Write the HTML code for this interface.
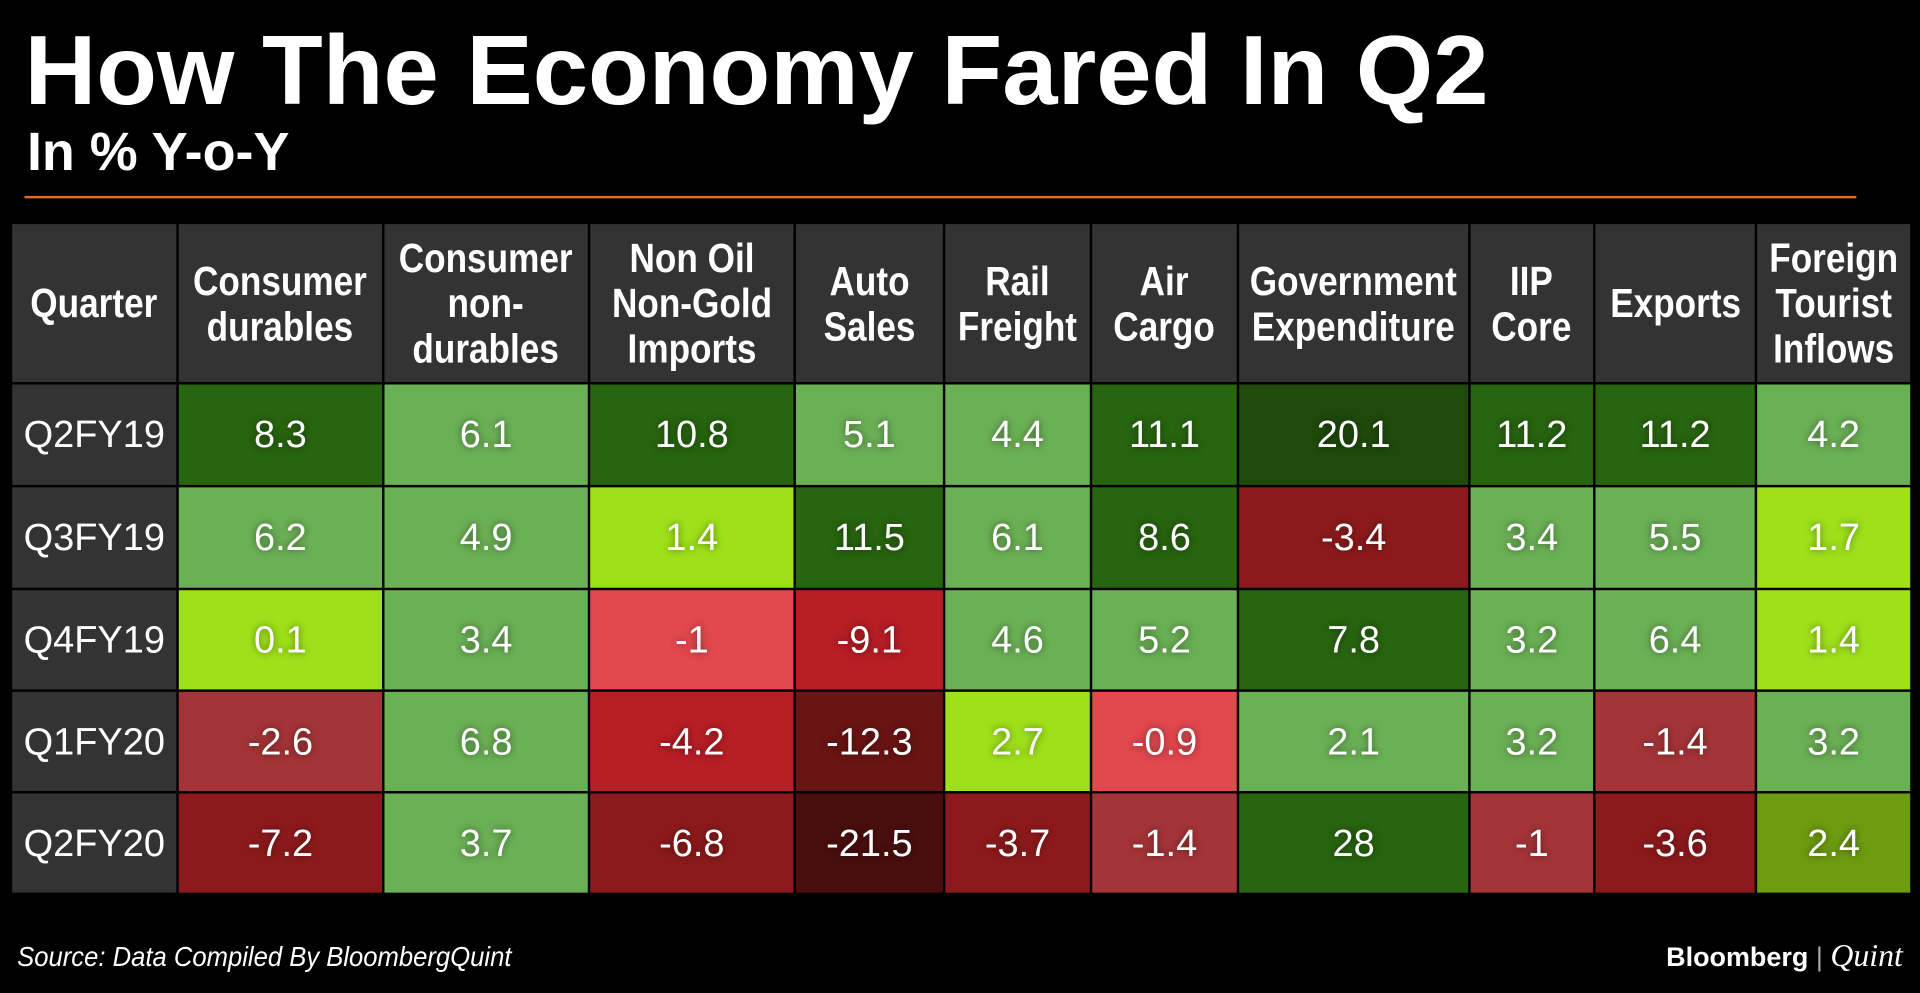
<!DOCTYPE html>
<html><head><meta charset="utf-8">
<style>
html,body{margin:0;padding:0;background:#000;width:1920px;height:993px;overflow:hidden}
#stage{position:absolute;left:0;top:0;width:1568px;height:811px;transform:scale(1.22449);transform-origin:0 0;background:#000;color:#fff;font-family:"Liberation Sans",sans-serif}
.title{position:absolute;left:20px;top:12px;font-size:80px;font-weight:bold;white-space:nowrap;transform:scaleX(1.015);transform-origin:0 0}
.sub{position:absolute;left:22px;top:100px;font-size:44px;font-weight:bold;white-space:nowrap}
.rule{position:absolute;left:20px;top:160px;width:1496px;height:2px;background:#e06a2a}
.cell{position:absolute;display:flex;align-items:center;justify-content:center;text-align:center;font-family:"Liberation Sans Narrow","Liberation Sans",sans-serif;box-sizing:border-box}
.cell span{display:inline-block;white-space:nowrap}
.hd{background:#333;font-weight:bold;font-size:33px;line-height:37px}
.hd span{transform:scaleX(0.87)}
.q{background:#333;font-size:31px}
.v{font-size:31px;text-shadow:0 0 6px rgba(0,0,0,0.5)}
.src{position:absolute;left:14px;top:768px;font-style:italic;font-size:23px;white-space:nowrap;transform:scaleX(0.91);transform-origin:0 0}
.logo{position:absolute;right:14px;top:766px;font-size:22px;white-space:nowrap}
</style></head><body>
<div id="stage">
<div class="title">How The Economy Fared In Q2</div>
<div class="sub">In % Y-o-Y</div>
<div class="rule"></div>
<div id="table"></div>
<div class="src">Source: Data Compiled By BloombergQuint</div>
<div class="logo"><b>Bloomberg</b> <span style="color:#aaa">|</span> <i style="font-family:'Liberation Serif',serif;font-size:26px">Quint</i></div>
</div>
<script>
const categories = ["Consumer<br>durables","Consumer<br>non-<br>durables","Non Oil<br>Non-Gold<br>Imports","Auto<br>Sales","Rail<br>Freight","Air<br>Cargo","Government<br>Expenditure","IIP<br>Core","Exports","Foreign<br>Tourist<br>Inflows"];
const quarters = ["Q2FY19","Q3FY19","Q4FY19","Q1FY20","Q2FY20"];
const q2fy19 = [8.3,6.1,10.8,5.1,4.4,11.1,20.1,11.2,11.2,4.2];
const q3fy19 = [6.2,4.9,1.4,11.5,6.1,8.6,-3.4,3.4,5.5,1.7];
const q4fy19 = [0.1,3.4,-1,-9.1,4.6,5.2,7.8,3.2,6.4,1.4];
const q1fy20 = [-2.6,6.8,-4.2,-12.3,2.7,-0.9,2.1,3.2,-1.4,3.2];
const q2fy20 = [-7.2,3.7,-6.8,-21.5,-3.7,-1.4,28,-1,-3.6,2.4];
const values = [q2fy19,q3fy19,q4fy19,q1fy20,q2fy20];

const palette = {DDG:"#1f4a0b",DG:"#28650f",MG:"#6bb055",L:"#9ee11a",O:"#6d9c10",LR:"#e2484e",MR:"#a43437",R:"#b71e25",DR:"#8c1a1c",DR2:"#6a1414",DDR:"#4a0e0e"};
const shades = [
 ["DG","MG","DG","MG","MG","DG","DDG","DG","DG","MG"],
 ["MG","MG","L","DG","MG","DG","DR","MG","MG","L"],
 ["L","MG","LR","R","MG","MG","DG","MG","MG","L"],
 ["MR","MG","R","DR2","L","LR","MG","MG","MR","MG"],
 ["DR","MG","DR","DDR","DR","MR","DG","MR","DR","O"]
];
const colEdges=[10,146,314,482,650,772,892,1012,1201,1303,1435,1562];
const rowEdges=[183,314,398,482,565,648,731];
const t=document.getElementById('table');
function mk(cls,x0,x1,y0,y1,html){
  const d=document.createElement('div');
  d.className='cell '+cls;
  d.style.left=x0+'px';d.style.top=y0+'px';
  d.style.width=(x1-x0-2)+'px';d.style.height=(y1-y0-2)+'px';
  d.innerHTML='<span>'+html+'</span>';t.appendChild(d);return d;
}
let h=mk('hd',colEdges[0],colEdges[1],rowEdges[0],rowEdges[1],'Quarter');


categories.forEach((c,i)=>{
  const e=mk('hd',colEdges[i+1],colEdges[i+2],rowEdges[0],rowEdges[1],c);
  
  
});
quarters.forEach((q,r)=>{
  const e=mk('q',colEdges[0],colEdges[1],rowEdges[r+1],rowEdges[r+2],q);
  
  
  values[r].forEach((v,c)=>{
    const cell=mk('v',colEdges[c+1],colEdges[c+2],rowEdges[r+1],rowEdges[r+2],String(v));
    cell.style.background=palette[shades[r][c]];
    
    
  });
});
</script>
</body></html>
